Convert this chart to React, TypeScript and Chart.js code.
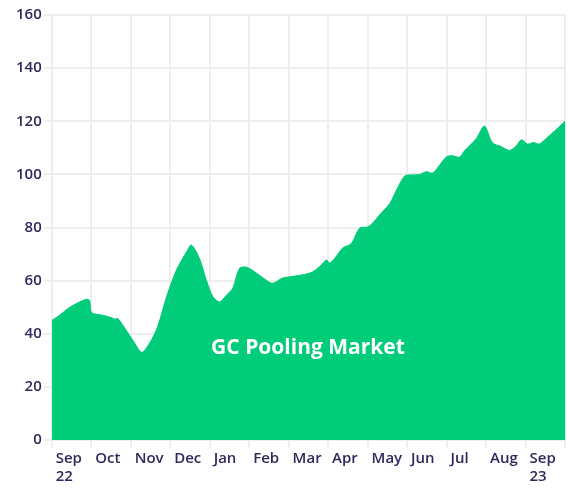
import React, { useEffect, useRef } from "react";
import { Chart, registerables } from "chart.js";

Chart.register(...registerables);

// Month boundaries (0 = start of Sep 2022, 13 = start of Oct 2023)
const monthLabels: string[][] = [
  ["Sep", "22"], ["Oct"], ["Nov"], ["Dec"], ["Jan"], ["Feb"], ["Mar"],
  ["Apr"], ["May"], ["Jun"], ["Jul"], ["Aug"], ["Sep", "23"],
];

// Position of each observation, in months since start of Sep 2022
const seriesMonths: number[] = [
  0.0, 0.2, 0.46, 0.71, 0.89, 0.96, 1.01, 1.29, 1.52, 1.6, 1.67, 1.9, 2.1, 2.28,
  2.48, 2.68, 2.91, 3.16, 3.42, 3.54, 3.75, 3.92, 4.08, 4.25, 4.43, 4.58, 4.76,
  4.94, 5.19, 5.4, 5.59, 5.85, 6.05, 6.28, 6.45, 6.61, 6.8, 6.96, 7.04, 7.2,
  7.37, 7.59, 7.8, 8.0, 8.15, 8.3, 8.56, 8.73, 8.94, 9.1, 9.32, 9.49, 9.65,
  9.8, 10.0, 10.15, 10.33, 10.46, 10.6, 10.76, 10.96, 11.16, 11.39, 11.59,
  11.75, 11.9, 12.05, 12.2, 12.35, 12.53, 12.75, 13.0,
];

// GC Pooling Market volume
const seriesValues: number[] = [
  45, 47, 50, 52, 53, 52.5, 48, 47, 46, 45.5, 45.8, 41, 36.5, 33,
  36.5, 42.6, 54, 64, 71, 73.4, 68, 60, 54, 52, 54.6, 57, 64.7,
  65, 62.8, 60.5, 59, 61, 61.5, 62, 62.5, 63.3, 65.5, 67.8, 66.6, 69,
  72.3, 74, 79.8, 80.2, 82, 84.7, 89, 94, 99.4, 99.8, 100, 101, 100.5,
  103, 106.6, 107, 106.5, 109, 111, 113.6, 118.2, 112, 110.4, 109,
  110.5, 113, 111.4, 112, 111.4, 113.6, 116.5, 120,
];

const yTicks: number[] = [0, 20, 40, 60, 80, 100, 120, 140, 160];

const seriesName = "GC Pooling Market";
const seriesLabelAt = { month: 6.49, value: 34.6 };

const inkColor = "#2e2a5c";
const fillColor = "#00cc7a";
const gridColor = "#eeeeee";
const fontFamily = "'Open Sans', 'DejaVu Sans', sans-serif";

const seriesLabelPlugin = {
  id: "seriesLabel",
  afterDatasetsDraw(chart: any) {
    const { ctx, scales } = chart;
    const x = scales.x.getPixelForValue(seriesLabelAt.month);
    const y = scales.y.getPixelForValue(seriesLabelAt.value);
    ctx.save();
    ctx.fillStyle = "#ffffff";
    ctx.font = `700 21px ${fontFamily}`;
    ctx.textAlign = "center";
    ctx.textBaseline = "middle";
    ctx.fillText(seriesName, x, y);
    ctx.restore();
  },
};

export default function App() {
  const canvasRef = useRef<HTMLCanvasElement | null>(null);

  useEffect(() => {
    if (!canvasRef.current) return;
    const points = seriesMonths.map((m, i) => ({ x: m, y: seriesValues[i] }));
    const chart = new Chart(canvasRef.current, {
      type: "line",
      data: {
        datasets: [
          {
            label: seriesName,
            data: points,
            fill: "origin",
            backgroundColor: fillColor,
            borderColor: fillColor,
            borderWidth: 1,
            pointRadius: 0,
            tension: 0.3,
          },
        ],
      },
      plugins: [seriesLabelPlugin],
      options: {
        animation: false,
        responsive: false,
        maintainAspectRatio: false,
        layout: { padding: { top: 15, right: 3, left: 14, bottom: 0 } },
        plugins: {
          legend: { display: false },
          tooltip: { enabled: false },
        },
        scales: {
          x: {
            type: "linear",
            min: 0,
            max: monthLabels.length,
            afterBuildTicks: (scale: any) => {
              scale.ticks = Array.from({ length: monthLabels.length + 1 }, (_, i) => ({ value: i }));
            },
            border: { display: false },
            grid: { color: gridColor, lineWidth: 2, tickLength: 8 },
            ticks: {
              align: "start",
              labelOffset: 4,
              padding: 2,
              maxRotation: 0,
              autoSkip: false,
              color: inkColor,
              font: { family: fontFamily, size: 15, weight: "600", lineHeight: 1.2 },
              callback: (v: any) => monthLabels[v as number] ?? "",
            },
          },
          y: {
            min: 0,
            max: 160,
            afterBuildTicks: (scale: any) => {
              scale.ticks = yTicks.map((v) => ({ value: v }));
            },
            border: { display: false },
            grid: { color: gridColor, lineWidth: 2, tickLength: 8 },
            ticks: {
              padding: 2,
              color: inkColor,
              font: { family: fontFamily, size: 15, weight: "600" },
            },
          },
        },
      },
    });
    return () => chart.destroy();
  }, []);

  return (
    <div style={{ position: "fixed", left: 0, top: 0, width: 568, height: 488, background: "#ffffff" }}>
      <canvas ref={canvasRef} width={568} height={488} style={{ width: 568, height: 488 }} />
    </div>
  );
}
